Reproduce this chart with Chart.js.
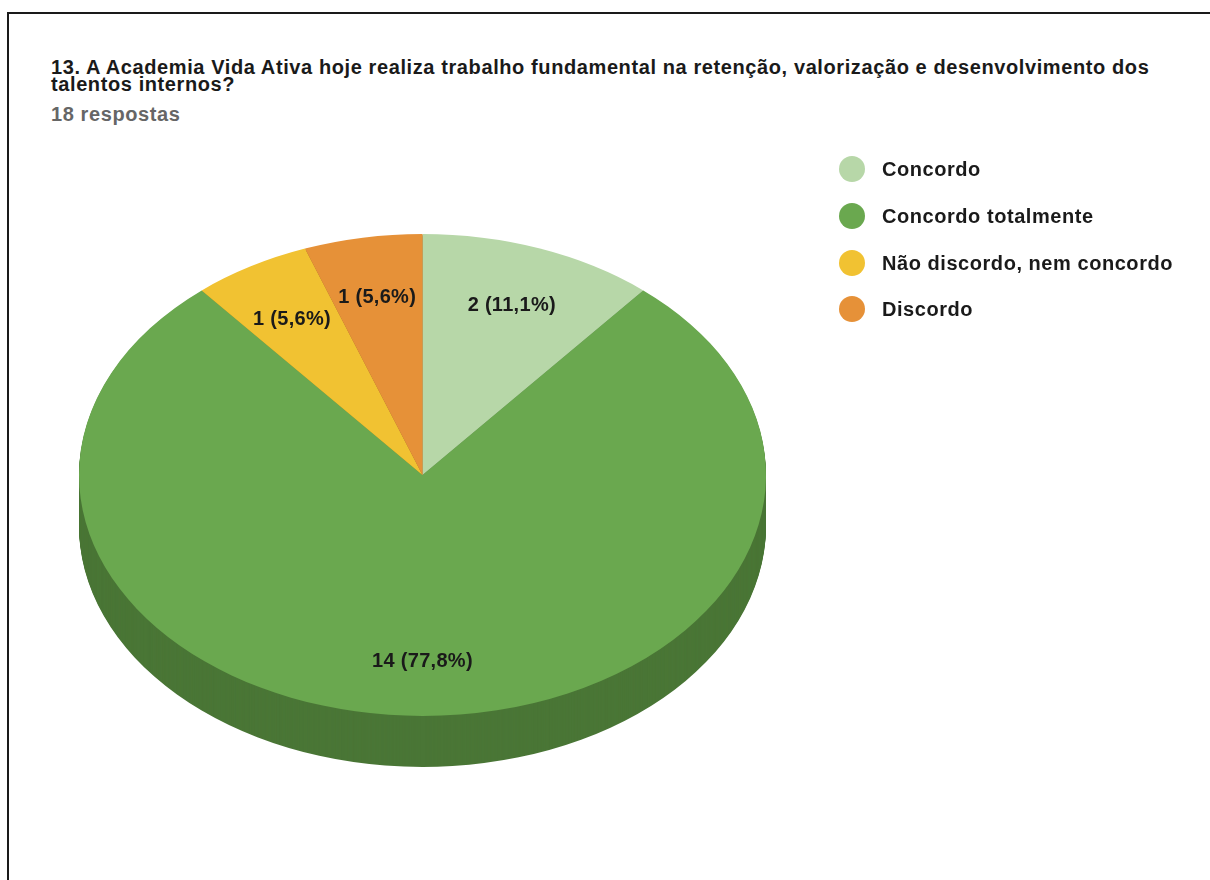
<!DOCTYPE html>
<html>
<head>
<meta charset="utf-8">
<script src="https://cdn.jsdelivr.net/npm/chart.js@4.4.1/dist/chart.umd.min.js"></script>
<style>
  body { margin: 0; background: #fff; font-family: "Liberation Sans", Arial, sans-serif; overflow: hidden; }
  .frame { position: absolute; left: 7px; top: 12px; width: 1400px; height: 1000px;
           border-top: 2px solid #1a1a1a; border-left: 2px solid #1a1a1a; }
  #title { position: absolute; left: 51px; top: 58.5px; font-size: 20px; line-height: 17px;
           font-weight: bold; color: #1a1a1a; letter-spacing: 0.6px; white-space: nowrap; }
  #sub { position: absolute; left: 51px; top: 104.5px; font-size: 20px; line-height: 19px;
         font-weight: bold; color: #666; letter-spacing: 0.6px; }
  #chart { position: absolute; left: 0; top: 0; }
  .leg { position: absolute; left: 839px; height: 26px; display: flex; align-items: center;
         font-size: 20px; font-weight: bold; color: #1a1a1a; letter-spacing: 0.55px; white-space: nowrap; }
  .leg i { display: inline-block; width: 26px; height: 26px; border-radius: 50%; margin-right: 17px; }
</style>
</head>
<body>
<div class="frame"></div>
<div id="title">13. A Academia Vida Ativa hoje realiza trabalho fundamental na retenção, valorização e desenvolvimento dos<br>talentos internos?</div>
<div id="sub">18 respostas</div>
<canvas id="chart" width="1210" height="880"></canvas>
<div id="legend"></div>
<script>
// Dados da pergunta 13
const categories = ['Concordo', 'Concordo totalmente', 'Não discordo, nem concordo', 'Discordo'];
const answers = [2, 14, 1, 1];
const sliceColors = ['#b7d7a8', '#6aa84f', '#f1c232', '#e69138'];
const sideColors = ['#7f9775', '#4a7636', '#a98823', '#a16627'];

const TILT = 0.7016;   // achatamento vertical da pizza
const DEPTH = 51;      // espessura da lateral

const total = answers.reduce((a, b) => a + b, 0);

// legenda em HTML
const legendTops = [156, 203, 250, 296];
categories.forEach((name, i) => {
  const row = document.createElement('div');
  row.className = 'leg';
  row.style.top = legendTops[i] + 'px';
  row.innerHTML = '<i style="background:' + sliceColors[i] + '"></i>' + name;
  document.getElementById('legend').appendChild(row);
});

// plugin que desenha a pizza "3D" (elipse + lateral) e os rótulos
const pie3d = {
  id: 'pie3d',
  beforeDatasetsDraw(chart) {
    const ctx = chart.ctx;
    const meta = chart.getDatasetMeta(0);
    const cy = meta.data[0].y;
    for (let d = DEPTH; d > 0; d--) {
      ctx.save();
      ctx.translate(0, cy + d);
      ctx.scale(1, TILT);
      ctx.translate(0, -cy);
      meta.data.forEach((arc, i) => {
        ctx.beginPath();
        ctx.moveTo(arc.x, arc.y);
        ctx.arc(arc.x, arc.y, arc.outerRadius, arc.startAngle, arc.endAngle);
        ctx.closePath();
        ctx.fillStyle = sideColors[i];
        ctx.fill();
      });
      ctx.restore();
    }
    ctx.save();
    ctx.translate(0, cy);
    ctx.scale(1, TILT);
    ctx.translate(0, -cy);
  },
  afterDatasetsDraw(chart) {
    const ctx = chart.ctx;
    ctx.restore();
    const meta = chart.getDatasetMeta(0);
    ctx.save();
    ctx.font = 'bold 20px "Liberation Sans", Arial, sans-serif';
    ctx.letterSpacing = '0.3px';
    ctx.fillStyle = '#1a1a1a';
    ctx.textAlign = 'center';
    ctx.textBaseline = 'middle';
    meta.data.forEach((arc, i) => {
      const mid = (arc.startAngle + arc.endAngle) / 2;
      const r = arc.outerRadius * 0.76;
      const x = arc.x + Math.cos(mid) * r;
      const y = arc.y + Math.sin(mid) * r * TILT + 3;
      const pct = (answers[i] / total * 100).toFixed(1).replace('.', ',');
      ctx.fillText(answers[i] + ' (' + pct + '%)', x, y);
    });
    ctx.restore();
  }
};

new Chart(document.getElementById('chart'), {
  type: 'pie',
  data: {
    labels: categories,
    datasets: [{
      data: answers,
      backgroundColor: sliceColors,
      borderWidth: 0
    }]
  },
  options: {
    responsive: false,
    animation: false,
    devicePixelRatio: 1,
    layout: { padding: { left: 79, right: 444, top: 131.5, bottom: 61.5 } },
    plugins: {
      legend: { display: false },
      tooltip: { enabled: false }
    }
  },
  plugins: [pie3d]
});
</script>
</body>
</html>
